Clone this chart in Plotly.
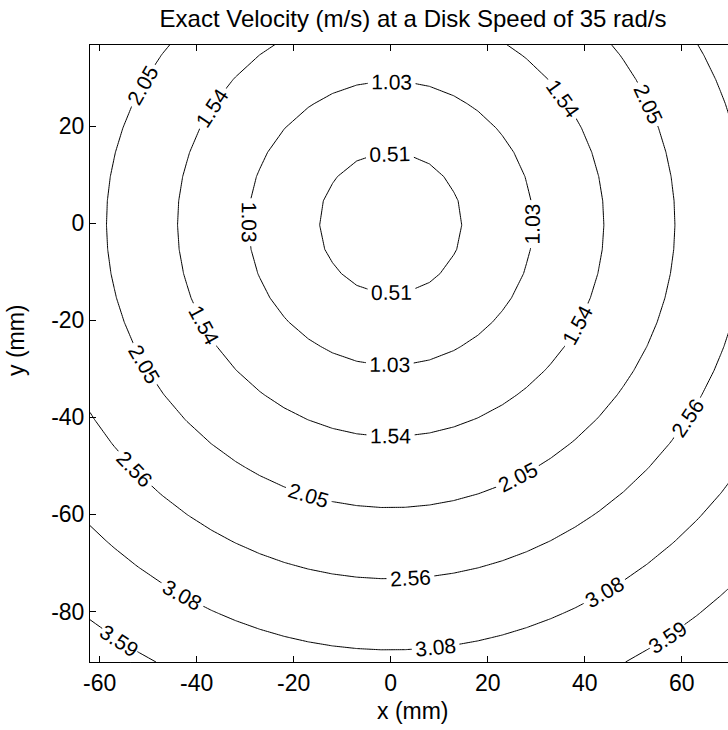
import numpy as np
import plotly.graph_objects as go

# ---- data -------------------------------------------------------------
DISK_SPEED = 35.0                      # rad/s
X_RANGE_MM = [-62.0, 72.0]             # grid extent in x (mm)
Y_RANGE_MM = [-90.4, 36.7]             # grid extent in y (mm)
GRID_STEP_MM = 5.0
LEVEL_STEP = 0.5128                    # m/s between contour levels
LEVELS = [0.51, 1.03, 1.54, 2.05, 2.56, 3.08, 3.59]   # labelled levels (m/s)
X_TICKS = [-60, -40, -20, 0, 20, 40, 60]
Y_TICKS = [-80, -60, -40, -20, 0, 20]

x_mm = np.arange(X_RANGE_MM[0], X_RANGE_MM[1] + GRID_STEP_MM, GRID_STEP_MM)
y_mm = np.arange(Y_RANGE_MM[0], Y_RANGE_MM[1] + GRID_STEP_MM, GRID_STEP_MM)
X, Y = np.meshgrid(x_mm, y_mm)
# exact tangential velocity of a rotating disk: v = omega * r
velocity = DISK_SPEED * np.sqrt(X ** 2 + Y ** 2) / 1000.0

FONT = "Liberation Sans, Arial, sans-serif"

# Plotly spaces contour labels according to the number of levels in the
# trace; levels above the data maximum draw nothing but give denser labels.
LABEL_DENSITY_LEVELS = 70

fig = go.Figure(
    go.Contour(
        x=x_mm,
        y=y_mm,
        z=velocity,
        autocontour=False,
        contours=dict(
            start=LEVEL_STEP,
            end=LEVEL_STEP * LABEL_DENSITY_LEVELS + 0.01,
            size=LEVEL_STEP,
            coloring="none",
            showlabels=True,
            labelfont=dict(family=FONT, size=21, color="black"),
            labelformat=".2f",
        ),
        line=dict(color="black", width=1, smoothing=0),
        showscale=False,
        hoverinfo="skip",
    )
)

# the outermost level's arcs are too short for Plotly's automatic labels;
# label them at points along the same level (x positions of the labels)
OUTER_LABEL_X_MM = [-56.0, 57.0]
outer_level = LEVEL_STEP * len(LEVELS)
outer_r_mm = outer_level / DISK_SPEED * 1000.0
for lx in OUTER_LABEL_X_MM:
    ly = -np.sqrt(outer_r_mm ** 2 - lx ** 2)
    theta = np.degrees(np.arctan2(ly, lx))
    ang = -(theta + 90.0)
    while ang > 90:
        ang -= 180
    while ang < -90:
        ang += 180
    fig.add_annotation(
        x=lx, y=ly, xref="x", yref="y",
        text=f"{outer_level:.2f}", showarrow=False,
        textangle=ang, bgcolor="white", borderpad=0,
        font=dict(family=FONT, size=21, color="black"),
    )

fig.update_layout(
    width=728,
    height=730,
    margin=dict(l=90, r=0, t=45, b=68),
    paper_bgcolor="white",
    plot_bgcolor="white",
    font=dict(family=FONT, size=24, color="black"),
    showlegend=False,
    title=dict(
        text="Exact Velocity (m/s) at a Disk Speed of 35 rad/s",
        x=(413 - 90) / 638,
        xref="paper",
        xanchor="center",
        y=1 - 19 / 730,
        yref="container",
        yanchor="middle",
        font=dict(family=FONT, size=24, color="black"),
    ),
)

fig.update_xaxes(
    range=[X_RANGE_MM[0], X_RANGE_MM[0] + (728 - 90) / 4.85],
    tickvals=X_TICKS,
    ticktext=[str(v) for v in X_TICKS],
    ticks="inside",
    ticklen=6,
    tickcolor="black",
    showline=True,
    linecolor="black",
    linewidth=1,
    mirror="ticks",
    showgrid=False,
    zeroline=False,
    tickfont=dict(family=FONT, size=23),
)
fig.update_yaxes(
    range=Y_RANGE_MM,
    tickvals=Y_TICKS,
    ticktext=[str(v) for v in Y_TICKS],
    ticks="inside",
    ticklen=6,
    tickcolor="black",
    showline=True,
    linecolor="black",
    linewidth=1,
    mirror=False,
    showgrid=False,
    zeroline=False,
    tickfont=dict(family=FONT, size=23),
)

fig.add_annotation(
    text="x (mm)", xref="paper", yref="paper",
    x=(413 - 90) / 638, y=-(711 - 662) / 617,
    xanchor="center", yanchor="middle", showarrow=False,
    font=dict(family=FONT, size=23),
)
fig.add_annotation(
    text="y (mm)", xref="paper", yref="paper",
    x=-(90 - 16) / 638, y=(662 - 340) / 617,
    xanchor="center", yanchor="middle", showarrow=False, textangle=-90,
    font=dict(family=FONT, size=23),
)

fig.write_html(
    "out.html",
    config={"displayModeBar": False},
    post_script="document.body.style.margin='0px';",
)
